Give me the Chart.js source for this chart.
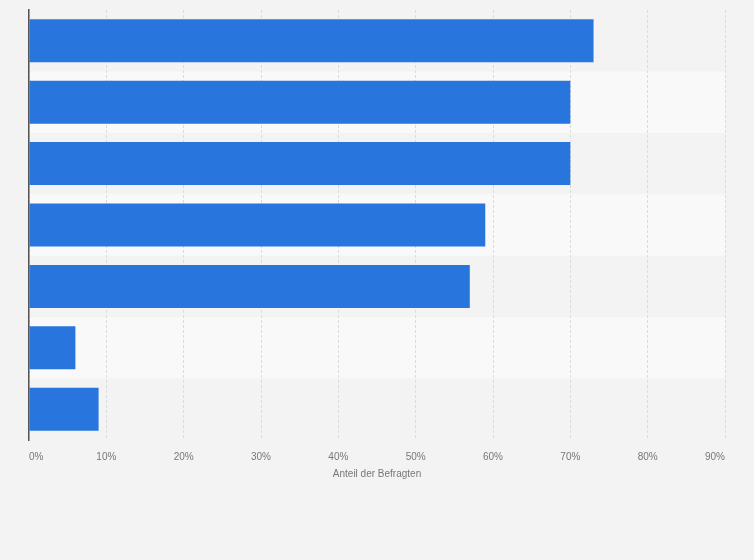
<!DOCTYPE html>
<html>
<head>
<meta charset="utf-8">
<script src="https://cdn.jsdelivr.net/npm/chart.js@4"></script>
<style>
  html, body { margin: 0; padding: 0; background: #f3f3f3; }
  #wrap { width: 754px; height: 560px; }
</style>
</head>
<body>
<div id="wrap"><canvas id="chart"></canvas></div>
<script>
// values (share of respondents, %)
const categories = ['Kategorie 1', 'Kategorie 2', 'Kategorie 3', 'Kategorie 4', 'Kategorie 5', 'Kategorie 6', 'Kategorie 7'];
const shares = [73, 70, 70, 59, 57, 6, 9];
const xTicks = [0, 10, 20, 30, 40, 50, 60, 70, 80, 90];

// page background + alternating row stripes behind the grid
const stripes = {
  id: 'stripes',
  beforeDraw(chart) {
    const { ctx, chartArea, scales } = chart;
    ctx.save();
    ctx.fillStyle = '#f3f3f3';
    ctx.fillRect(0, 0, chart.width, chart.height);
    const y = scales.y;
    const step = (chartArea.bottom - chartArea.top) / categories.length;
    ctx.fillStyle = '#f9f9f9';
    categories.forEach((c, i) => {
      if (i % 2 === 1) {
        const mid = y.getPixelForValue(i);
        ctx.fillRect(chartArea.left, mid - step / 2, chartArea.right - chartArea.left, step);
      }
    });
    ctx.restore();
  }
};

Chart.defaults.font.family = '"Liberation Sans", Arial, sans-serif';

new Chart(document.getElementById('chart'), {
  type: 'bar',
  data: {
    labels: categories,
    datasets: [{
      label: 'Anteil der Befragten',
      data: shares,
      backgroundColor: '#2876dd',
      borderWidth: 0,
      categoryPercentage: 1,
      barPercentage: 0.7
    }]
  },
  options: {
    indexAxis: 'y',
    responsive: true,
    maintainAspectRatio: false,
    animation: false,
    layout: { padding: { left: 29, right: 29, top: 10, bottom: 80 } },
    plugins: { legend: { display: false }, tooltip: { enabled: false } },
    scales: {
      x: {
        min: 0,
        max: 90,
        afterBuildTicks: (axis) => { axis.ticks = xTicks.map((v) => ({ value: v })); },
        ticks: {
          callback: (v) => v + '%',
          color: '#777',
          font: { size: 10 },
          padding: 11,
          align: 'inner'
        },
        grid: { color: '#dcdcdc', drawTicks: false, lineWidth: 1 },
        border: { display: false, dash: [3, 2] },
        title: {
          display: true,
          text: 'Anteil der Befragten',
          color: '#777',
          font: { size: 10 },
          padding: { top: -6, bottom: 0 }
        }
      },
      y: {
        ticks: { display: false },
        grid: { display: false, drawTicks: false },
        border: { display: true, color: '#555', width: 1.5 }
      }
    }
  },
  plugins: [stripes]
});
</script>
</body>
</html>
